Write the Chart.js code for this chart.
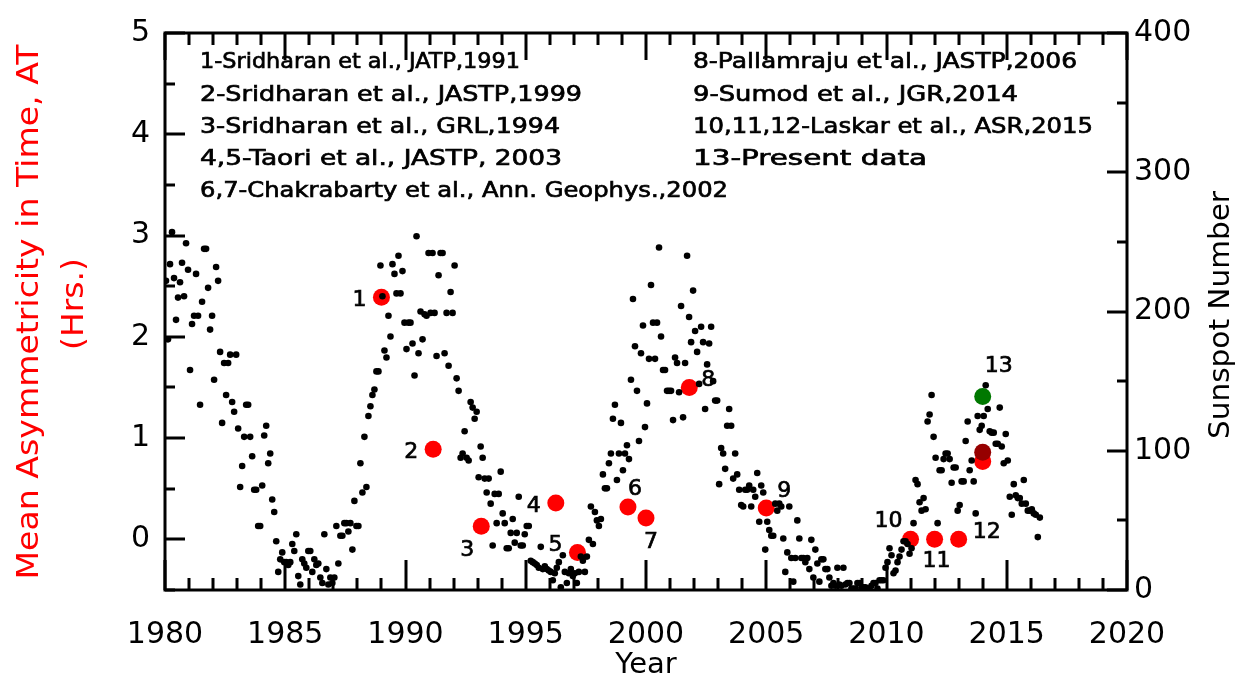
<!DOCTYPE html>
<html><head><meta charset="utf-8">
<script src="https://cdn.jsdelivr.net/npm/chart.js@4/dist/chart.umd.min.js"></script>
<style>html,body{margin:0;padding:0;background:#fff;}#wrap{width:1239px;height:682px;}</style>
</head><body><div id="wrap"><canvas id="c" width="1239" height="682"></canvas></div>
<script>
// ---- Sunspot number, monthly, starting Jan 1980 (right axis) ----
const sunspotStartYear = 1980;
const sunspotMonthly = [
  222,180,234,257,224,194,210,221,235,211,249,230, // 1980
  158,191,197,227,197,133,207,245,245,217,187,197, // 1981
  151,232,222,171,120,163,140,163,169,135,128,169, // 1982
  116,74,89,110,133,133,110,96,72,72,46,46,         // 1983
  75,111,118,91,98,65,56,35,13,22,27,20,            // 1984
  20,18,20,33,28,40,10,4,22,19,16,28,               // 1985
  28,13,22,18,19,9,5,40,15,4,9,5,                   // 1986
  9,46,19,39,39,48,48,42,48,29,64,46,               // 1987
  46,91,70,110,74,125,132,140,144,157,157,233,      // 1988
  211,172,167,197,182,234,227,213,240,213,229,192,  // 1989
  173,192,192,177,154,254,170,200,180,198,197,242,  // 1990
  199,242,199,168,226,242,242,170,199,161,214,199,  // 1991
  233,152,143,95,98,114,95,93,135,131,123,128,      // 1992
  81,103,95,80,70,80,62,32,69,48,69,85,             // 1993
  55,48,30,30,41,51,34,41,67,32,32,40,              // 1994
  46,46,21,20,19,18,16,31,15,17,15,14,              // 1995
  13,7,12,16,20,2,25,13,5,12,15,10,                 // 1996
  12,5,13,24,21,13,24,36,60,33,56,50,               // 1997
  46,51,83,73,73,91,98,123,133,79,98,120,           // 1998
  86,98,104,94,151,209,175,143,107,170,190,117,     // 1999
  134,166,219,192,166,192,246,182,158,158,143,143,  // 2000
  143,122,167,163,142,204,124,163,240,196,178,215,  // 2001
  186,171,148,189,178,130,162,177,189,150,136,136,  // 2002
  76,102,98,87,118,130,118,80,98,83,72,61,          // 2003
  60,72,72,75,60,72,67,84,49,75,70,29,              // 2004
  49,43,39,39,62,57,62,60,37,13,27,60,              // 2005
  23,6,23,50,37,23,23,20,23,15,36,9,                // 2006
  29,19,6,22,22,15,15,9,3,5,3,16,                   // 2007
  4,3,16,4,5,5,1,1,1,5,5,2,                         // 2008
  2,2,1,1,3,5,5,1,7,7,7,16,                         // 2009
  20,30,25,12,14,20,24,29,35,35,33,26,              // 2010
  30,48,79,76,63,57,66,58,121,126,140,110,          // 2011
  95,48,86,86,94,98,98,94,77,88,88,57,              // 2012
  61,78,78,107,121,86,93,78,55,125,115,118,         // 2013
  125,147,130,114,113,113,105,105,131,103,91,112,   // 2014
  93,67,54,76,68,66,66,62,79,62,57,57,              // 2015
  58,55,54,38,52                                    // 2016
];

// ---- Mean asymmetricity in time, AT (left axis) ----
const asymYears  = [1989.0, 1991.15, 1993.15, 1996.25, 1997.15, 1999.25, 2000.0, 2001.8, 2005.0, 2011.0, 2012.0, 2013.0, 2014.0];
const asymValues = [2.39, 0.89, 0.13, 0.36, -0.13, 0.32, 0.21, 1.50, 0.31, 0.0, 0.0, 0.0, 0.77];
const asymLabels = ['1','2','3','4','5','6','7','8','9','10','11','12','13'];
const darkRedYears = [2014.0];
const darkRedValues = [0.86];
const greenYears = [2014.0];
const greenValues = [1.41];

// ---- Axis ticks ----
const xTicks = [1980,1985,1990,1995,2000,2005,2010,2015,2020];
const yLeftTicks = [0,1,2,3,4,5];
const yRightTicks = [0,100,200,300,400];

// ---- Reference list text ----
const refsLeft = [
  '1-Sridharan et al., JATP,1991',
  '2-Sridharan et al., JASTP,1999',
  '3-Sridharan et al., GRL,1994',
  '4,5-Taori et al., JASTP, 2003',
  '6,7-Chakrabarty et al., Ann. Geophys.,2002'
];
const refsRight = [
  '8-Pallamraju et al., JASTP,2006',
  '9-Sumod et al., JGR,2014',
  '10,11,12-Laskar et al., ASR,2015',
  '13-Present data'
];

// layout-only settings (pixels)
const refsLeftWidths = [320, 382, 360, 362, 528];
const refsRightWidths = [384, 325, 400, 234];
const labelOffsets = [[-22,3],[-22,3],[-14,24],[-22,3],[-22,-7],[7,-18],[5,24],[19,-7],[18,-17],[-22,-18],[2,22],[28,-7],[16,-95]];

const FONT = "'DejaVu Sans', sans-serif";

const sunspotPoints = sunspotMonthly.map((v,i)=>({x: sunspotStartYear + (i+0.5)/12, y: v}));
const asymPoints = asymYears.map((x,i)=>({x, y: asymValues[i]}));
const darkRedPoints = darkRedYears.map((x,i)=>({x, y: darkRedValues[i]}));
const greenPoints = greenYears.map((x,i)=>({x, y: greenValues[i]}));

// draw text stretched/compressed horizontally to a given width (slightly emboldened)
function fitText(ctx, text, x, y, width, align, bold) {
  const w = ctx.measureText(text).width;
  const s = width / w;
  ctx.save();
  ctx.translate(x, y);
  ctx.scale(s, 1);
  ctx.textAlign = align;
  ctx.fillText(text, 0, 0);
  if (bold) { ctx.lineWidth = bold; ctx.strokeStyle = ctx.fillStyle; ctx.strokeText(text, 0, 0); }
  ctx.restore();
}

const framePlugin = {
  id: 'frame',
  afterDatasetsDraw(chart) {
    const ctx = chart.ctx;
    const a = chart.chartArea;
    const xs = chart.scales.x, yl = chart.scales.y, yr = chart.scales.yR;
    ctx.save();
    ctx.strokeStyle = '#000';
    ctx.lineWidth = 3;
    ctx.lineCap = 'butt';
    ctx.strokeRect(a.left, a.top, a.right - a.left, a.bottom - a.top);
    ctx.beginPath();
    for (let yr_ = 1980; yr_ <= 2020; yr_++) {
      const px = Math.round(xs.getPixelForValue(yr_));
      const major = yr_ % 5 === 0;
      ctx.moveTo(px, a.bottom); ctx.lineTo(px, a.bottom - (major ? 30 : 12));
      ctx.moveTo(px, a.top); ctx.lineTo(px, a.top + (major ? 27 : 12));
    }
    for (let v = -0.5; v <= 5.001; v += 0.5) {
      const py = Math.round(yl.getPixelForValue(v));
      const major = Math.abs(v - Math.round(v)) < 1e-6;
      ctx.moveTo(a.left, py); ctx.lineTo(a.left + (major ? 20 : 10), py);
    }
    for (let v = 0; v <= 400; v += 50) {
      const py = Math.round(yr.getPixelForValue(v));
      const major = v % 100 === 0;
      ctx.moveTo(a.right, py); ctx.lineTo(a.right - (major ? 20 : 10), py);
    }
    ctx.stroke();

    // reference list
    ctx.fillStyle = '#000';
    ctx.font = '22px ' + FONT;
    ctx.textBaseline = 'middle';
    const lineY = [62, 95, 127, 159, 191];
    refsLeft.forEach((t,i)=>fitText(ctx, t, 200, lineY[i], refsLeftWidths[i], 'left', 0.7));
    refsRight.forEach((t,i)=>fitText(ctx, t, 693, lineY[i], refsRightWidths[i], 'left', 0.7));

    // point numbers
    asymPoints.forEach((p,i)=>{
      const px = xs.getPixelForValue(p.x), py = yl.getPixelForValue(p.y);
      const t = asymLabels[i];
      fitText(ctx, t, px + labelOffsets[i][0], py + labelOffsets[i][1], ctx.measureText(t).width, 'center', 0.7);
    });

    // axis titles
    ctx.font = '29px ' + FONT;
    ctx.textAlign = 'center';
    ctx.fillText('Year', 646, 665);
    ctx.save();
    ctx.translate(1222, 315);
    ctx.rotate(-Math.PI/2);
    ctx.font = '28px ' + FONT;
    fitText(ctx, 'Sunspot Number', 0, 0, 248, 'center');
    ctx.restore();
    ctx.save();
    ctx.fillStyle = 'rgb(255,0,0)';
    ctx.font = '30px ' + FONT;
    ctx.translate(30, 312);
    ctx.rotate(-Math.PI/2);
    fitText(ctx, 'Mean Asymmetricity in Time, AT', 0, 0, 535, 'center');
    ctx.restore();
    ctx.save();
    ctx.fillStyle = 'rgb(255,0,0)';
    ctx.font = '30px ' + FONT;
    ctx.translate(75, 304);
    ctx.rotate(-Math.PI/2);
    fitText(ctx, '(Hrs.)', 0, 0, 92, 'center');
    ctx.restore();
    ctx.restore();
  }
};

const tickFont = {family: FONT, size: 30};

new Chart(document.getElementById('c'), {
  type: 'scatter',
  data: {
    datasets: [
      {label: 'Sunspot Number', data: sunspotPoints, yAxisID: 'yR', pointRadius: 3.3, pointHoverRadius: 3.3, backgroundColor: '#000', borderWidth: 0},
      {label: 'Present data (2)', data: greenPoints, yAxisID: 'y', pointRadius: 8.5, backgroundColor: 'rgb(0,120,0)', borderWidth: 0},
      {label: 'Present data (1)', data: darkRedPoints, yAxisID: 'y', pointRadius: 8.5, backgroundColor: 'rgb(150,0,0)', borderWidth: 0},
      {label: 'AT', data: asymPoints, yAxisID: 'y', pointRadius: 8.5, backgroundColor: 'rgb(255,0,0)', borderWidth: 0}
    ]
  },
  options: {
    responsive: false,
    devicePixelRatio: 1,
    animation: false,
    layout: {padding: {top: 18, left: 0, right: 0, bottom: 0}},
    plugins: {legend: {display: false}, tooltip: {enabled: false}},
    scales: {
      x: {
        type: 'linear', position: 'bottom', min: 1980, max: 2020,
        afterBuildTicks: s => { s.ticks = xTicks.map(v=>({value: v})); },
        afterFit: s => { s.height = 92; },
        grid: {display: false, drawTicks: false}, border: {display: false},
        ticks: {font: tickFont, color: '#000', padding: 27, maxRotation: 0, autoSkip: false, callback: v => String(v)}
      },
      y: {
        type: 'linear', position: 'left', min: -0.5, max: 5,
        afterBuildTicks: s => { s.ticks = yLeftTicks.map(v=>({value: v})); },
        afterFit: s => { s.width = 165; },
        grid: {display: false, drawTicks: false}, border: {display: false},
        ticks: {font: tickFont, color: '#000', padding: 15, callback: v => String(v)}
      },
      yR: {
        type: 'linear', position: 'right', min: 0, max: 400,
        afterBuildTicks: s => { s.ticks = yRightTicks.map(v=>({value: v})); },
        afterFit: s => { s.width = 112; },
        grid: {display: false, drawTicks: false}, border: {display: false},
        ticks: {font: tickFont, color: '#000', padding: 7, callback: v => String(v)}
      }
    }
  },
  plugins: [framePlugin]
});
</script>
</body></html>
